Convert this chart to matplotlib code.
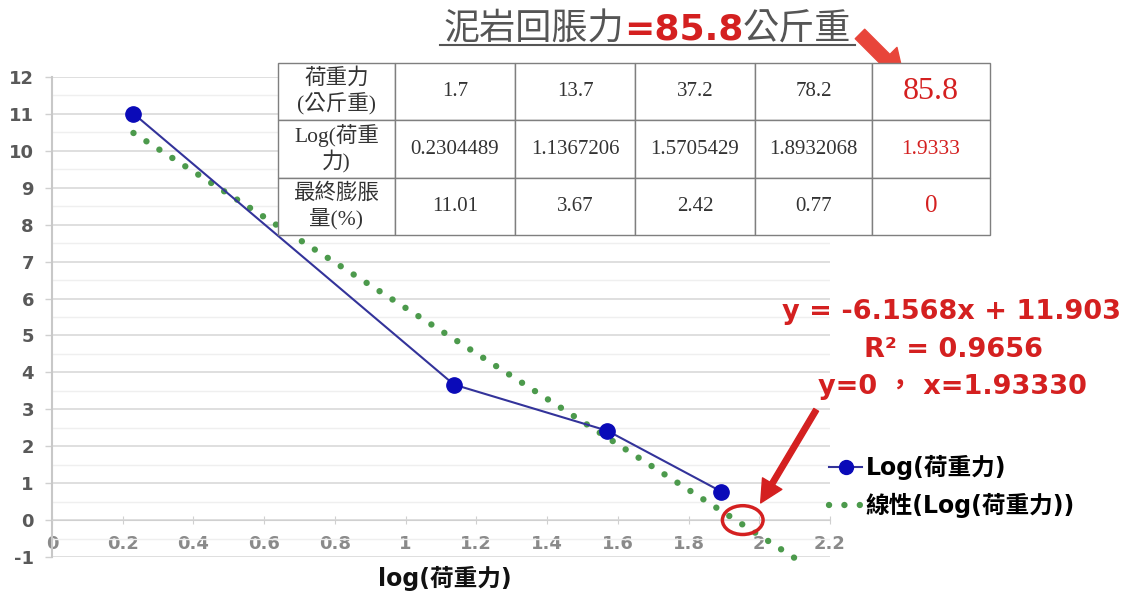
import numpy as np
import matplotlib.pyplot as plt
from matplotlib.lines import Line2D
from matplotlib.patches import Ellipse

plt.rcParams["axes.unicode_minus"] = False

# test data: load (kgf), log(load), final swell (%)
loads = ["1.7", "13.7", "37.2", "78.2"]
log_load = [0.2304489, 1.1367206, 1.5705429, 1.8932068]
swell = [11.01, 3.67, 2.42, 0.77]

# linear trend of swell vs log(load) and its root
slope = -6.1568
intercept = 11.903
r2 = 0.9656
x_root = 1.9333
load_root = "85.8"
trend_end = 2.1

row_labels = ["荷重力\n(公斤重)", "Log(荷重\n力)", "最終膨脹\n量(%)"]

CJK = ["DejaVu Sans", "Noto Sans CJK TC"]
SERIF = ["Liberation Serif", "Noto Sans CJK TC"]
RED = "#d42020"
DOTS = (0, (0.01, 2.4))

fig = plt.figure(figsize=(11.32, 5.91), dpi=100)
ax = fig.add_axes([0.0459, 0.0575, 0.6873, 0.8122])

# swell series
ax.plot(log_load, swell, "-", color="#33339a", lw=1.5, zorder=3,
        marker="o", markersize=11, markerfacecolor="#0a0ab8",
        markeredgecolor="#0a0ab8")

# dotted trend line
xt = np.array([log_load[0], trend_end])
ax.plot(xt, slope * xt + intercept, color="#4c9a4c", lw=4.6,
        linestyle=DOTS, dash_capstyle="round", zorder=2, clip_on=False)

ax.set_xlim(0, 2.2)
ax.set_ylim(-1, 12)
ax.set_yticks(range(-1, 13))
ax.set_yticks(np.arange(-0.5, 12, 1), minor=True)
ax.set_xticks(np.arange(0, 2.21, 0.2))
ax.set_xticklabels(["0", "0.2", "0.4", "0.6", "0.8", "1", "1.2", "1.4",
                    "1.6", "1.8", "2", "2.2"])
ax.grid(axis="y", which="major", color="#d9d9d9", lw=1.2)
ax.grid(axis="y", which="minor", color="#efefef", lw=1.0)
ax.set_axisbelow(True)

for s in ["top", "right"]:
    ax.spines[s].set_visible(False)
ax.spines["bottom"].set_position(("data", 0))
ax.spines["bottom"].set_color("#d0d0d0")
ax.spines["left"].set_color("#c8c8c8")
ax.spines["left"].set_linewidth(1.5)
ax.tick_params(axis="y", which="major", length=5, width=1, color="#d0d0d0",
               pad=8, labelsize=13, labelcolor="#595959")
ax.tick_params(axis="y", which="minor", length=0)
ax.tick_params(axis="x", direction="inout", length=6, color="#d0d0d0",
               pad=8, labelsize=13, labelcolor="#8a8a8a")
for t in ax.get_xticklabels() + ax.get_yticklabels():
    t.set_fontweight("bold")

ax.text(1.11, -1.58, "log(荷重力)", family=CJK, fontsize=17,
        fontweight="bold", ha="center", va="center", color="#111111",
        clip_on=False)

# circle at the root and arrow pointing to it
ax.add_patch(Ellipse((x_root + 0.02, 0), 0.115, 0.78, fill=False,
                     edgecolor=RED, lw=2.5, clip_on=False, zorder=4))
ax.annotate("", xy=(2.0, 0.4), xytext=(2.165, 3.05),
            arrowprops=dict(arrowstyle="simple,head_length=0.9,head_width=0.9,tail_width=0.22",
                            color=RED, mutation_scale=18),
            annotation_clip=False)

# equation text
eq_kw = dict(family=CJK, fontsize=19.5, fontweight="bold", color=RED,
             ha="center", va="center")
fig.text(952 / 1132, 1 - 312 / 591, f"y = {slope}x + {intercept}", **eq_kw)
fig.text(953 / 1132, 1 - 350 / 591, f"R² = {r2}", **eq_kw)
fig.text(952 / 1132, 1 - 387 / 591, f"y=0 ， x={x_root:.5f}", **eq_kw)

# legend
handles = [Line2D([], [], color="#33339a", lw=1.5, marker="o",
                  markersize=10, markerfacecolor="#0a0ab8",
                  markeredgecolor="#0a0ab8"),
           Line2D([], [], color="#4c9a4c", lw=4.6, linestyle=DOTS,
                  dash_capstyle="round")]
fig.legend(handles, ["Log(荷重力)", "線性(Log(荷重力))"],
           loc="upper left", bbox_to_anchor=(808 / 1132, 1 - 434 / 591),
           frameon=False, handlelength=1.4, handletextpad=0.15,
           labelspacing=0.55, prop=dict(family=CJK, size=17, weight="bold"))

# data table
tax = fig.add_axes([278 / 1132, 1 - 235 / 591, 712 / 1132, 172 / 591])
tax.axis("off")
cells = [[row_labels[0]] + loads + [load_root],
         [row_labels[1]] + [f"{v:.7f}" for v in log_load] + [f"{x_root}"],
         [row_labels[2]] + [f"{v:.2f}" for v in swell] + ["0"]]
tbl = tax.table(cellText=cells, bbox=[0, 0, 1, 1], cellLoc="center",
                colWidths=[117, 120, 120, 120, 117, 118])
tbl.auto_set_font_size(False)
for (r, c), cell in tbl.get_celld().items():
    cell.set_edgecolor("#7f7f7f")
    cell.set_linewidth(1.0)
    txt = cell.get_text()
    txt.set_fontfamily(SERIF)
    txt.set_fontsize(15)
    txt.set_color("#333333")
    if c == 0:
        txt.set_fontsize(15.5)
        txt.set_linespacing(1.2)
    if c == 5:
        txt.set_color(RED)
        txt.set_fontsize([23, 15.5, 18][r])

# title: 泥岩回脹力=85.8公斤重
base_y = 1 - 40 / 591
t1 = fig.text(443 / 1132, base_y, "泥岩回脹力", family=CJK,
              fontsize=26, color="#555555", ha="left", va="baseline")
t2 = fig.text(0, base_y, "=" + load_root, family=CJK, fontsize=26,
              fontweight="bold", color=RED, va="baseline")
t3 = fig.text(0, base_y, "公斤重", family=CJK, fontsize=26,
              color="#555555", va="baseline")
fig.canvas.draw()
r = fig.canvas.get_renderer()
inv = fig.transFigure.inverted()
t2.set_x(inv.transform((t1.get_window_extent(r).x1, 0))[0])
t3.set_x(inv.transform((t2.get_window_extent(r).x1, 0))[0])
x_end = inv.transform((t3.get_window_extent(r).x1, 0))[0]
fig.add_artist(Line2D([440 / 1132, x_end + 0.003], [1 - 45 / 591] * 2,
                      color="#555555", lw=1.5))

# arrow from title to the 85.8 cell
ax.annotate("", xy=(906, 591 - 80), xycoords="figure pixels",
            xytext=(858, 591 - 32), textcoords="figure pixels",
            arrowprops=dict(arrowstyle="simple,head_length=0.8,head_width=1.0,tail_width=0.4",
                            color="#e8453a", mutation_scale=24),
            annotation_clip=False)

fig.savefig("out.png", dpi=100)
